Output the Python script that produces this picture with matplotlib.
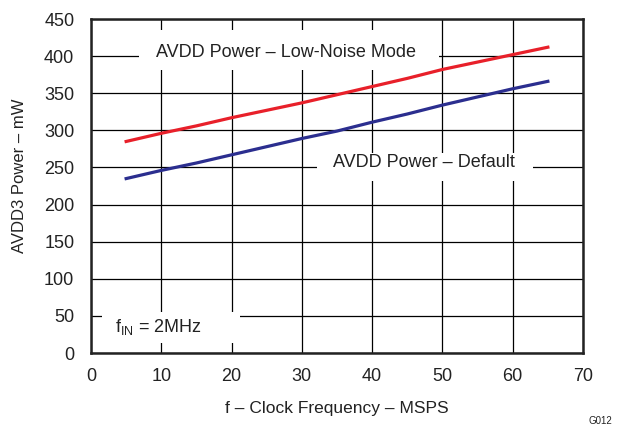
import matplotlib
matplotlib.use("Agg")
import matplotlib.pyplot as plt
from matplotlib.patches import Rectangle

plt.rcParams['font.family'] = ['Liberation Sans', 'DejaVu Sans']

# clock frequency (MSPS)
freq = [5, 10, 15, 20, 25, 30, 35, 40, 45, 50, 55, 60, 65]
# AVDD3 power (mW)
low_noise = [285, 296, 306, 317, 327, 337, 348, 359, 370, 382, 392, 402, 412]
default = [235, 246, 256, 267, 278, 289, 299, 311, 322, 334, 345, 356, 366]

xticks = [0, 10, 20, 30, 40, 50, 60, 70]
yticks = [0, 50, 100, 150, 200, 250, 300, 350, 400, 450]

fig = plt.figure(figsize=(6.19, 4.26), dpi=100)
ax = fig.add_axes([91 / 619, 1 - 353 / 426, 492 / 619, 334 / 426])

ax.plot(freq, low_noise, color='#e8202a', lw=2.3, zorder=4)
ax.plot(freq, default, color='#2b2e8f', lw=2.3, zorder=4)

ax.set_xlim(0, 70)
ax.set_ylim(0, 450)
ax.set_xticks(xticks)
ax.set_yticks(yticks)
ax.grid(True, color='black', lw=0.9, zorder=1)
ax.set_axisbelow(True)
ax.tick_params(length=0, labelsize=13, colors='#222222')
ax.tick_params(axis='x', pad=11)
ax.tick_params(axis='y', pad=12)
for s in ax.spines.values():
    s.set_linewidth(1.8)
    s.set_color('#222222')

# white boxes that blank out the grid behind the labels
for x0, y0, w, h in [(6.8, 381, 42.7, 54), (32.2, 232, 30.7, 38), (1.6, 13.5, 19.6, 41.5)]:
    ax.add_patch(Rectangle((x0, y0), w, h, facecolor='white', edgecolor='none', zorder=2))

ax.text(27.8, 405, 'AVDD Power \u2013 Low-Noise Mode', fontsize=13, color='#222222',
        ha='center', va='center', zorder=3)
ax.text(47.3, 256, 'AVDD Power \u2013 Default', fontsize=13, color='#222222',
        ha='center', va='center', zorder=3)
ax.text(3.4, 35, r'f$_{\mathregular{IN}}$ = 2MHz', fontsize=13, color='#222222',
        ha='left', va='center', zorder=3)

ax.set_xlabel('f \u2013 Clock Frequency \u2013 MSPS', fontsize=12.5, color='#222222')
ax.xaxis.set_label_coords(0.5, -0.145)
ax.set_ylabel('AVDD3 Power \u2013 mW', fontsize=12, color='#222222')
ax.yaxis.set_label_coords(-0.13, 0.53)

fig.text(600 / 619, 1 - 421 / 426, 'G012', fontsize=7, ha='center', va='center', color='#222222')

fig.savefig('out.png', dpi=100)
